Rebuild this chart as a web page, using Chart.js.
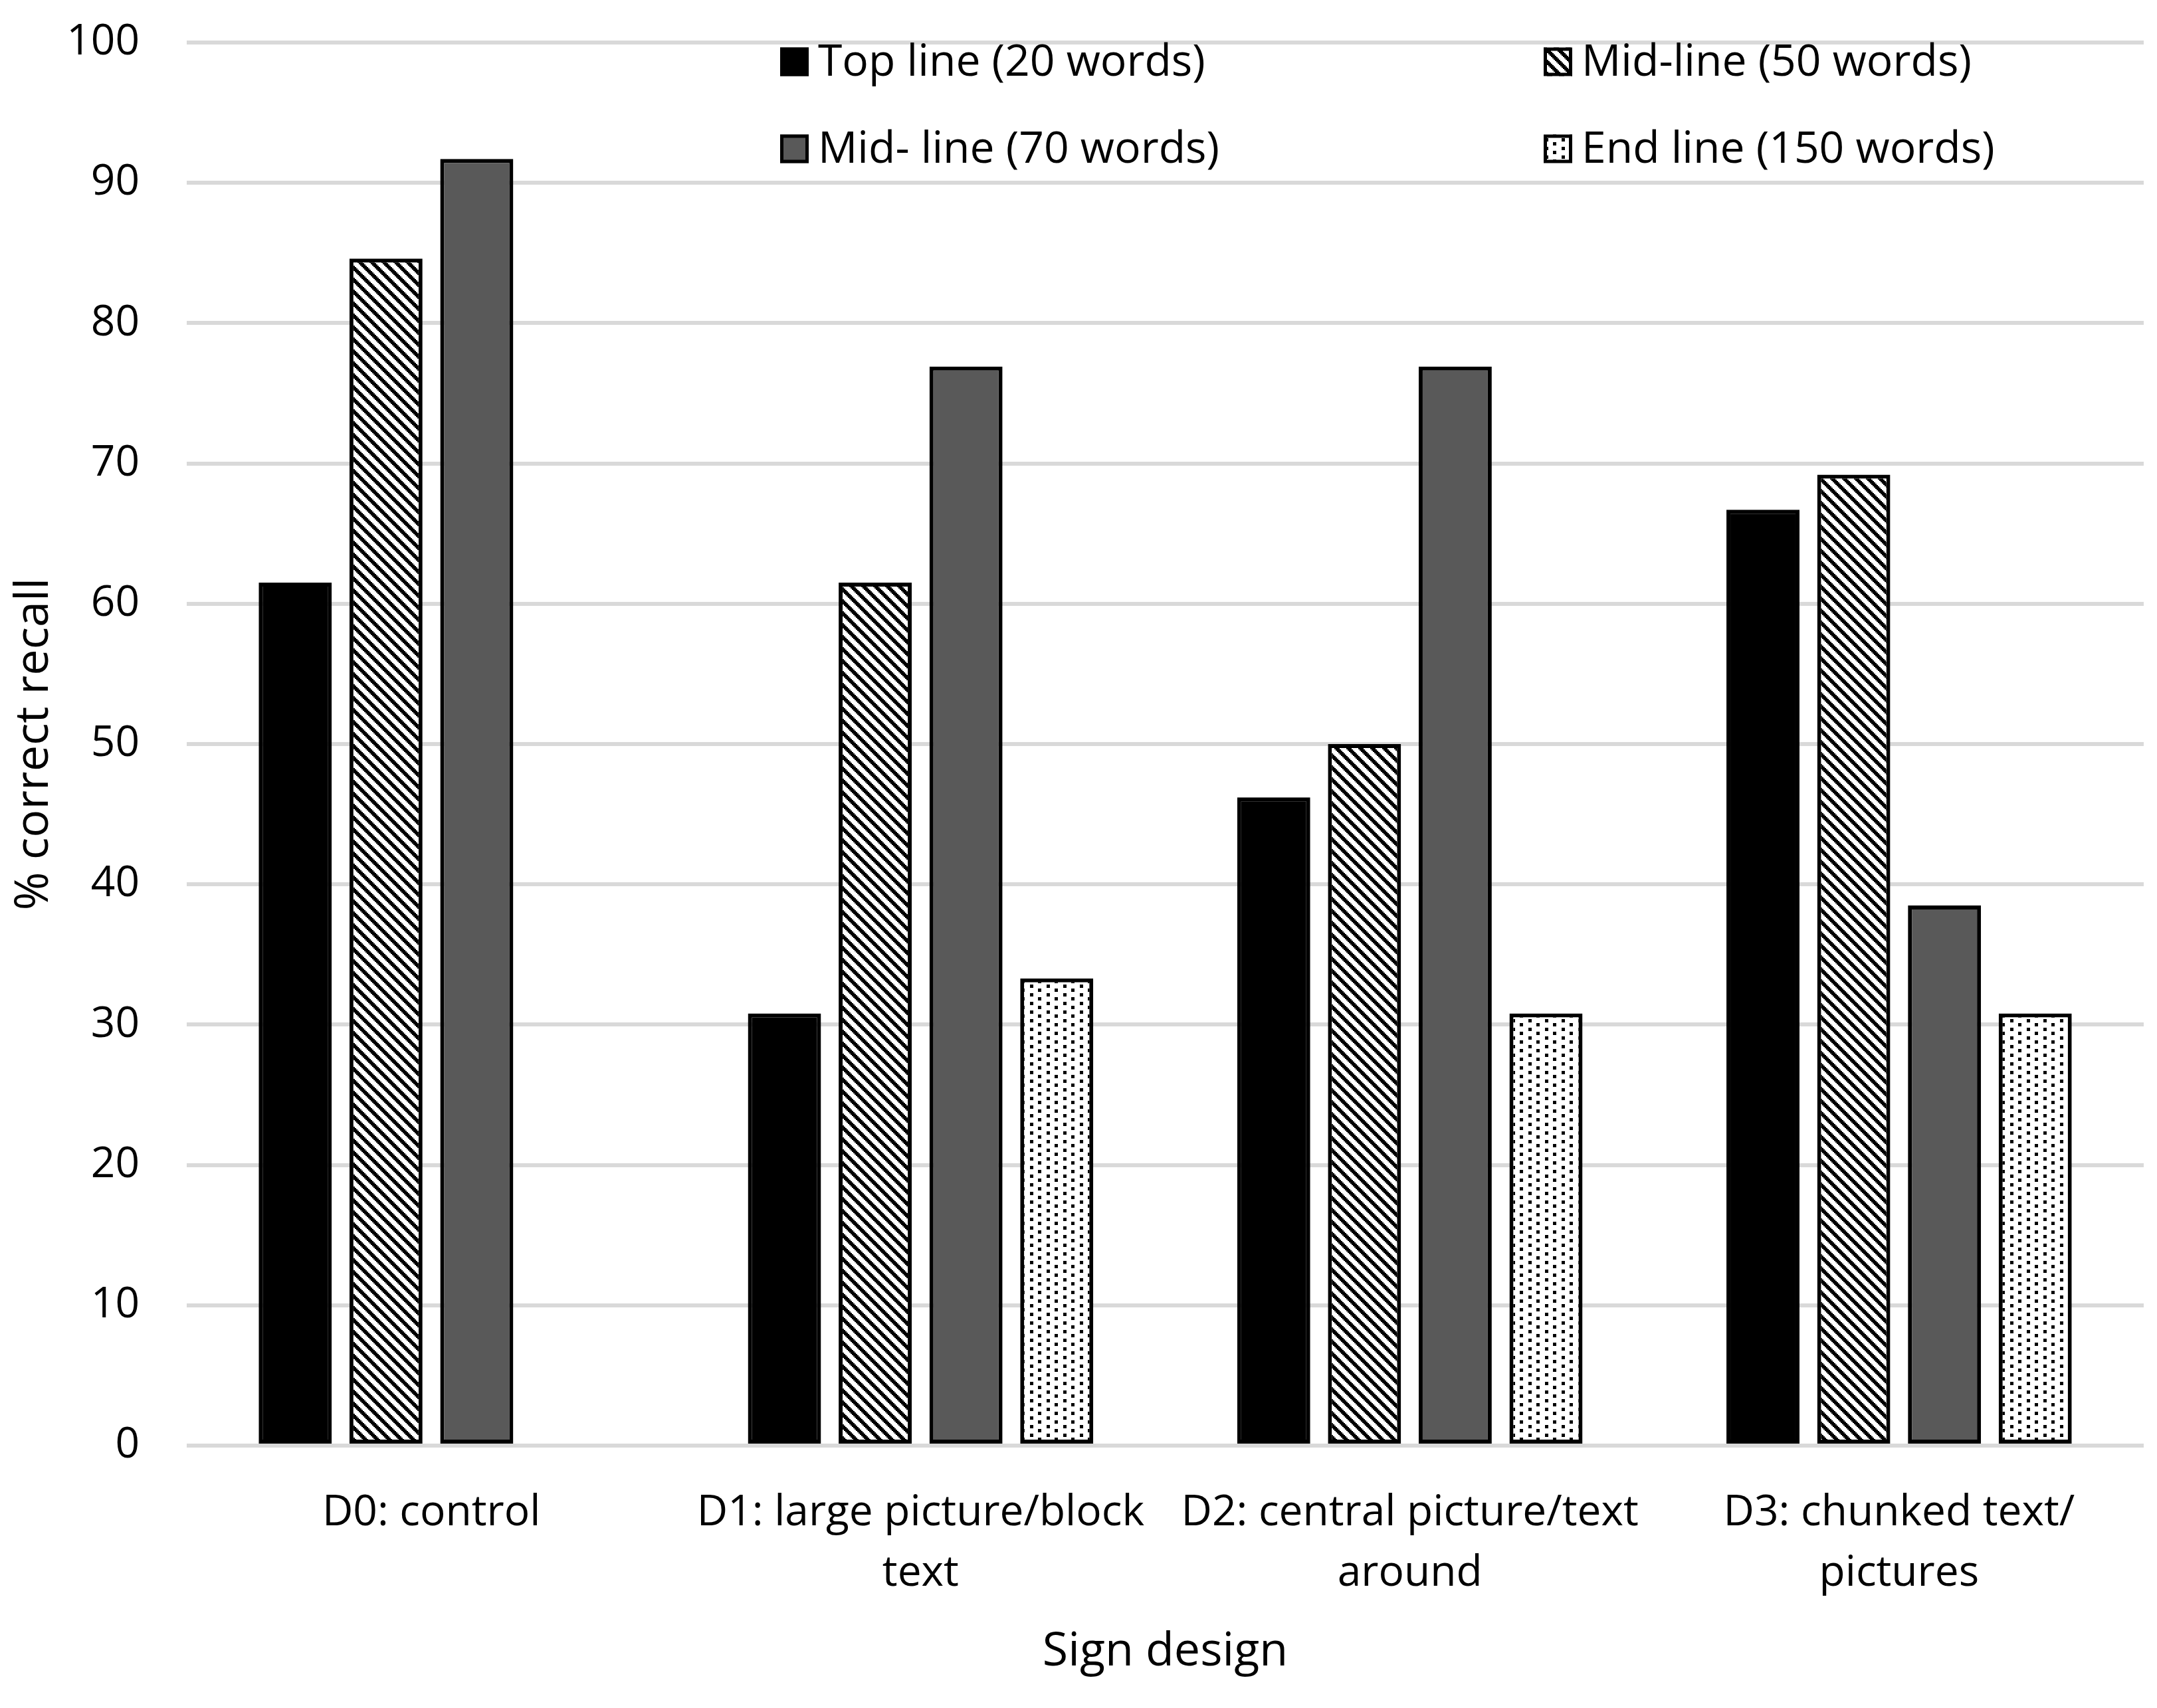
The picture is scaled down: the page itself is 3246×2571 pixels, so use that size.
<!DOCTYPE html>
<html>
<head>
<meta charset="utf-8">
<script src="https://cdn.jsdelivr.net/npm/chart.js@4.4.1/dist/chart.umd.min.js"></script>
<style>
   html, body { margin: 0; padding: 0; background: #fff; }
   #wrap { width: 3246px; height: 2571px; }
</style>
</head>
<body>
<div id="wrap"><canvas id="chart-recall" width="3246" height="2571"></canvas></div>
<script>
var categorias = [
   "D0: control",
   ["D1: large picture/block", "text"],
   ["D2: central picture/text", "around"],
   ["D3: chunked text/", "pictures"],
];
var series = [
   "Top line (20 words)",
   "Mid-line (50 words)",
   "Mid- line (70 words)",
   "End line (150 words)",
];
var topLine = [61.5, 30.8, 46.2, 66.7];
var midLine50 = [84.6, 61.5, 50.0, 69.2];
var midLine70 = [91.7, 76.9, 76.9, 38.5];
var endLine = [null, 33.3, 30.8, 30.8];
var yTicks = [0, 10, 20, 30, 40, 50, 60, 70, 80, 90, 100];

function makePattern(w, h, isBlack) {
   var c = document.createElement("canvas");
   c.width = w;
   c.height = h;
   var g = c.getContext("2d");
   var img = g.createImageData(w, h);
   for (var y = 0; y < h; y++) {
      for (var x = 0; x < w; x++) {
         var v = isBlack(x, y) ? 0 : 255;
         var i = (y * w + x) * 4;
         img.data[i] = v;
         img.data[i + 1] = v;
         img.data[i + 2] = v;
         img.data[i + 3] = 255;
      }
   }
   g.putImageData(img, 0, 0);
   return g.createPattern(c, "repeat");
}

// rayas "\" anchas, con escalones de 2 px como en Excel
var stripes = makePattern(18, 18, function (x, y) {
   var qx = Math.floor(x / 2) * 2;
   var qy = Math.floor(y / 2) * 2;
   return (qx - qy + 18) % 18 < 8;
});
var dots = makePattern(25, 13, function (x, y) {
   return (x < 5 && y < 5) || (x >= 12 && x < 17 && y >= 6 && y < 11);
});

// leyenda a mano, 2 columnas dentro del area del grafico
var legendPlugin = {
   id: "leyenda",
   afterDraw: function (chart, args, opts) {
      var ctx = chart.ctx;
      ctx.save();
      ctx.font = "66px 'Open Sans'";
      ctx.textBaseline = "middle";
      ctx.textAlign = "left";
      chart.data.datasets.forEach(function (ds, i) {
         var x = opts.cols[i % 2];
         var y = opts.rows[Math.floor(i / 2)];
         var s = opts.box;
         ctx.fillStyle = ds.backgroundColor;
         ctx.fillRect(x, y - s / 2, s, s);
         ctx.lineWidth = 5;
         ctx.strokeStyle = "#000";
         ctx.strokeRect(x + 2.5, y - s / 2 + 2.5, s - 5, s - 5);
         ctx.fillStyle = "#000";
         ctx.fillText(ds.label, x + s + 14, y + 2);
      });
      ctx.restore();
   },
};

function dataset(label, data, color) {
   return {
      label: label,
      data: data,
      backgroundColor: color,
      borderColor: "#000",
      borderWidth: 6,
      borderSkipped: false,
      categoryPercentage: 0.742,
      barPercentage: 0.805,
   };
}

var ctxRecall = document.getElementById("chart-recall").getContext("2d");
window.grafica = new Chart(ctxRecall, {
   type: "bar",
   plugins: [legendPlugin],
   data: {
      labels: categorias,
      datasets: [
         dataset(series[0], topLine, "#000000"),
         dataset(series[1], midLine50, stripes),
         dataset(series[2], midLine70, "#595959"),
         dataset(series[3], endLine, dots),
      ],
   },
   options: {
      responsive: false,
      devicePixelRatio: 1,
      animation: false,
      layout: {
         padding: { left: 0, right: 20, top: 64, bottom: 0 },
      },
      plugins: {
         legend: { display: false },
         tooltip: { enabled: false },
         leyenda: {
            cols: [1174, 2323],
            rows: [93, 224],
            box: 43,
         },
      },
      scales: {
         x: {
            grid: { display: false },
            border: { display: false },
            ticks: {
               color: "#000",
               maxRotation: 0,
               autoSkip: false,
               padding: 48,
               font: { size: 64, family: "Open Sans", lineHeight: 1.42 },
            },
            title: {
               display: true,
               text: "Sign design",
               color: "#000",
               font: { size: 70, family: "Open Sans", lineHeight: 1.2 },
               padding: { top: 0, bottom: 42 },
            },
            afterFit: function (scale) {
               scale.height = 395;
               scale.paddingLeft = 0;
               scale.paddingRight = 0;
            },
         },
         y: {
            min: 0,
            max: 100,
            grid: {
               color: "#d9d9d9",
               lineWidth: 6,
               drawTicks: false,
            },
            border: { display: false },
            afterBuildTicks: function (scale) {
               scale.ticks = yTicks.map(function (v) {
                  return { value: v };
               });
            },
            ticks: {
               color: "#000",
               padding: 71,
               font: { size: 64, family: "Open Sans" },
            },
            title: {
               display: true,
               text: "% correct recall",
               color: "#000",
               font: { size: 70, family: "Open Sans", lineHeight: 1.2 },
               padding: { top: 10, bottom: 0 },
            },
            afterFit: function (scale) {
               scale.width = 281;
               scale.paddingTop = 0;
               scale.paddingBottom = 0;
            },
         },
      },
   },
});
</script>
</body>
</html>
